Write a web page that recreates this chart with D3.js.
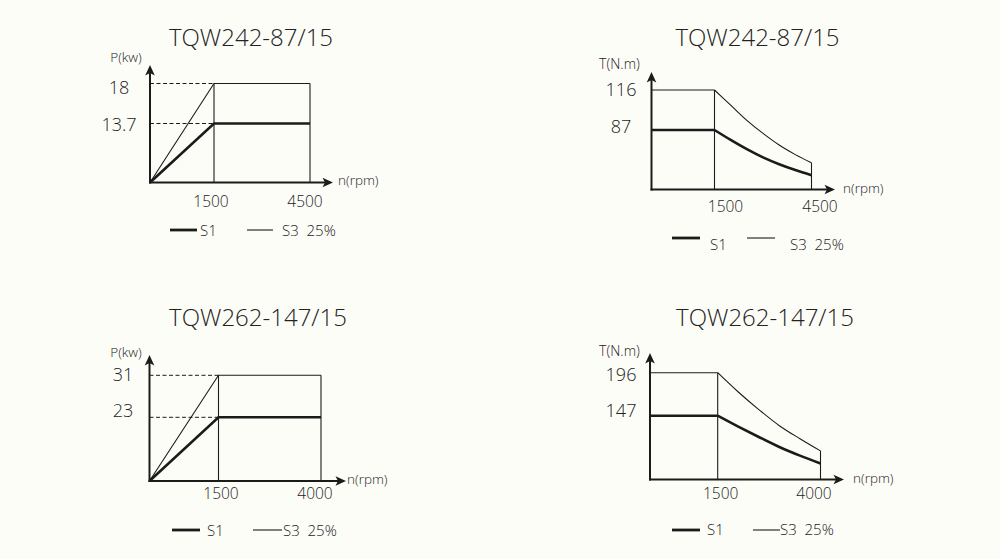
<!DOCTYPE html>
<html><head><meta charset="utf-8">
<script src="https://cdn.jsdelivr.net/npm/d3@7"></script>
<style>html,body{margin:0;padding:0;background:#fdfdf8}svg{display:block}</style>
</head><body><svg id="c" width="1000" height="559"></svg>
<script>
// ---------- data ----------
const titles = ["TQW242-87/15", "TQW242-87/15", "TQW262-147/15", "TQW262-147/15"];
const yUnits = ["P(kw)", "T(N.m)", "P(kw)", "T(N.m)"];
const xUnit = "n(rpm)";
const legendLabels = ["S1", "S3  25%"];

const xTicksA = [1500, 4500];
const xTicksB = [1500, 4000];
const yTicksPA = [13.7, 18];
const yTicksTA = [87, 116];
const yTicksPB = [23, 31];
const yTicksTB = [147, 196];

const rpmPA = [0, 1500, 4500];
const s1PA = [0, 13.7, 13.7];
const s3PA = [0, 18, 18];

const rpmTA = [0, 1500, 2000, 2500, 3000, 3500, 4000, 4500];
const s1TA = [87, 87, 72.5, 59, 47, 37, 28.5, 21];
const s3TA = [116, 116, 105, 94, 82, 65, 51, 39];

const rpmPB = [0, 1500, 4000];
const s1PB = [0, 23, 23];
const s3PB = [0, 31, 31];

const rpmTB = [0, 1500, 2000, 2500, 3000, 3500, 4000];
const s1TB = [147, 147, 122, 98, 75, 55, 37];
const s3TB = [196, 196, 174, 154, 124, 94, 66];

// ---------- layout ----------
const panels = [
  {kind: "P", title: titles[0], unit: yUnits[0], xTicks: xTicksA, yTicks: yTicksPA, rpm: rpmPA, s1: s1PA, s3: s3PA,
   L: {ox: 150, oy: 182.5, xr: [214, 310], xTip: 333, yr: [123.5, 83.5], yTip: 65, title: [251, 45.5], unit: [126, 62],
       yLab: 119, yDy: [7.5, 10.5], xLabDx: [-3, -5], xLabY: 207, nrpm: [338, 185],
       leg: {y: 230, base: 236, l1: [170, 197], t1: 200, l2: [247, 273], t2: 282}}},
  {kind: "T", title: titles[1], unit: yUnits[1], xTicks: xTicksA, yTicks: yTicksTA, rpm: rpmTA, s1: s1TA, s3: s3TA,
   L: {ox: 651.5, oy: 189.5, xr: [714.5, 811.5], xTip: 835, yr: [130, 90], yTip: 72, title: [757.5, 45.5], unit: [619.5, 69],
       yLab: 621, yDy: [2.7, 6], xLabDx: [11, 8.5], xLabY: 212, nrpm: [843, 193],
       leg: {y: 238, base: 250, l1: [672, 700], t1: 710, l2: [747, 775], t2: 790}}},
  {kind: "P", title: titles[2], unit: yUnits[2], xTicks: xTicksB, yTicks: yTicksPB, rpm: rpmPB, s1: s1PB, s3: s3PB,
   L: {ox: 149.5, oy: 481, xr: [218.5, 321], xTip: 346, yr: [417.3, 375.3], yTip: 355, title: [258, 325.5], unit: [126, 357],
       yLab: 123, yDy: [0, 5.4], xLabDx: [2.5, -6], xLabY: 499, nrpm: [347, 484],
       leg: {y: 530, base: 535.5, l1: [172, 200], t1: 207, l2: [253, 282], t2: 283}}},
  {kind: "T", title: titles[3], unit: yUnits[3], xTicks: xTicksB, yTicks: yTicksTB, rpm: rpmTB, s1: s1TB, s3: s3TB,
   L: {ox: 650, oy: 479.5, xr: [717.7, 820.5], xTip: 844, yr: [415.7, 372.7], yTip: 353, title: [765, 325.5], unit: [619.5, 356],
       yLab: 621, yDy: [1.3, 8], xLabDx: [3, -6.5], xLabY: 499, nrpm: [853, 483],
       leg: {y: 530, base: 535, l1: [672, 700], t1: 707, l2: [753, 780], t2: 780}}}
];

const INK = "#1b1b1b";
const FONT = "'Open Sans','Noto Sans',sans-serif";
const svg = d3.select("#c");
svg.append("rect").attr("width", 1000).attr("height", 559).attr("fill", "#fdfdf8");

function arrow(g, x, y, dir) {
  const rot = dir === "up" ? 0 : 90;
  g.append("path")
    .attr("d", "M0,0 L-4.8,10.5 L0,8 L4.8,10.5 Z")
    .attr("transform", `translate(${x},${y}) rotate(${rot})`)
    .attr("fill", INK);
}

function txt(g, x, y, s, size, anchor) {
  return g.append("text").attr("x", x).attr("y", y).attr("text-anchor", anchor || "start")
    .attr("font-family", FONT).attr("font-weight", 300).attr("font-size", size).attr("fill", "#222")
    .style("white-space", "pre").text(s);
}

panels.forEach(p => {
  const L = p.L;
  const g = svg.append("g");
  const x = d3.scaleLinear().domain([0, ...p.xTicks]).range([L.ox, ...L.xr]);
  const y = d3.scaleLinear().domain([0, ...p.yTicks]).range([L.oy, ...L.yr]);
  const pts = (vals) => p.rpm.map((r, i) => [r, vals[i]]);

  txt(g, L.title[0], L.title[1], p.title, 24, "middle");
  txt(g, L.unit[0], L.unit[1], p.unit, p.kind === "P" ? 13.5 : 14, "middle");
  p.yTicks.forEach((t, i) => txt(g, L.yLab, y(t) + L.yDy[i], String(t), 18, "middle"));
  p.xTicks.forEach((t, i) => txt(g, x(t) + L.xLabDx[i], L.xLabY, String(t), 15.5, "middle"));
  txt(g, L.nrpm[0], L.nrpm[1], xUnit, 13.5);

  if (p.kind === "P") {
    p.yTicks.forEach(t => {
      g.append("line").attr("x1", x(0)).attr("x2", x(p.xTicks[0])).attr("y1", y(t)).attr("y2", y(t))
        .attr("stroke", INK).attr("stroke-width", 1).attr("stroke-dasharray", "4,2.5");
    });
  }
  p.xTicks.forEach(t => {
    const idx = p.rpm.indexOf(t);
    g.append("line").attr("x1", x(t)).attr("x2", x(t)).attr("y1", y(0)).attr("y2", y(p.s3[idx]))
      .attr("stroke", INK).attr("stroke-width", 1.1);
  });

  const lin = d3.line().x(d => x(d[0])).y(d => y(d[1]));
  const crv = d3.line().x(d => x(d[0])).y(d => y(d[1])).curve(d3.curveMonotoneX);
  const drawSeries = (vals, w) => {
    const a = pts(vals);
    if (p.kind === "P") {
      g.append("path").attr("d", lin(a)).attr("fill", "none").attr("stroke", INK).attr("stroke-width", w);
    } else {
      const k = p.rpm.indexOf(p.xTicks[0]);
      g.append("path").attr("d", lin(a.slice(0, k + 1))).attr("fill", "none").attr("stroke", INK).attr("stroke-width", w);
      g.append("path").attr("d", crv(a.slice(k))).attr("fill", "none").attr("stroke", INK).attr("stroke-width", w);
    }
  };
  drawSeries(p.s3, 1.1);
  drawSeries(p.s1, 2.6);

  g.append("line").attr("x1", x(0)).attr("x2", x(0)).attr("y1", y(0) + 1).attr("y2", L.yTip + 6)
    .attr("stroke", INK).attr("stroke-width", 2);
  g.append("line").attr("x1", x(0) - 1).attr("x2", L.xTip - 6).attr("y1", y(0)).attr("y2", y(0))
    .attr("stroke", INK).attr("stroke-width", 2);
  arrow(g, x(0), L.yTip, "up");
  arrow(g, L.xTip, y(0), "right");

  const lg = L.leg;
  g.append("line").attr("x1", lg.l1[0]).attr("x2", lg.l1[1]).attr("y1", lg.y).attr("y2", lg.y)
    .attr("stroke", INK).attr("stroke-width", 2.8);
  txt(g, lg.t1, lg.base, legendLabels[0], 15);
  g.append("line").attr("x1", lg.l2[0]).attr("x2", lg.l2[1]).attr("y1", lg.y).attr("y2", lg.y)
    .attr("stroke", INK).attr("stroke-width", 1.1);
  txt(g, lg.t2, lg.base, legendLabels[1], 15);
});
</script>
</body></html>
